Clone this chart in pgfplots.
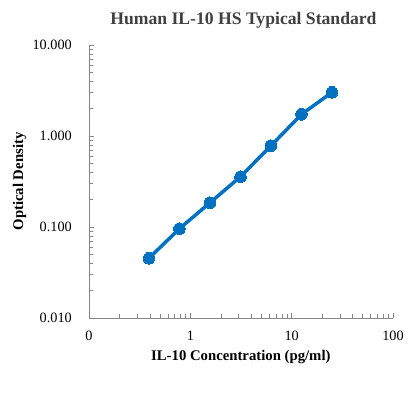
\documentclass[border=0pt]{standalone}
\usepackage{pgfplots}
\pgfplotsset{compat=1.18}
\usepackage{fontspec}
\setmainfont{Liberation Serif}
\definecolor{exblue}{RGB}{0,112,192}
\definecolor{axgray}{RGB}{134,134,134}
\definecolor{titlegray}{RGB}{64,64,64}
\begin{document}
\begin{tikzpicture}
\path[use as bounding box] (0,0) rectangle (420bp,396bp);
\begin{axis}[
  at={(89bp,78bp)}, anchor=south west,
  scale only axis, width=304bp, height=273bp,
  xmode=log, ymode=log,
  xmin=0.1, xmax=100, ymin=0.01, ymax=10,
  axis lines*=left,
  axis line style={axgray, line width=0.8pt},
  tick style={axgray, line width=0.6pt},
  tick align=inside,
  major tick length=5bp, minor tick length=4.5bp,
  xtick={0.1,1,10,100}, xticklabels={0,1,10,100},
  ytick={0.01,0.1,1,10}, yticklabels={0.010,0.100,1.000,10.000},
  tick label style={font=\fontsize{14.3}{16}\selectfont, text=black, inner sep=0pt},
  xticklabel style={anchor=center, yshift=-18bp},
  yticklabel style={anchor=east, xshift=-17bp},
  xlabel={\textbf{IL-10 Concentration (pg/ml)}},
  ylabel={\textbf{Optical Density}},
  label style={font=\fontsize{14.8}{17}\selectfont},
  xlabel style={at={(axis description cs:0.4995,-0.1429)}, anchor=center},
  ylabel style={at={(axis description cs:-0.2286,0.5)}, anchor=center},
  title={\textbf{Human IL-10 HS Typical Standard}},
  title style={font=\fontsize{17.7}{20}\selectfont, text=titlegray, at={(axis description cs:0.508,1)}, anchor=base, yshift=15bp},
  /pgf/number format/assume math mode=true,
  clip=false,
]
\addplot[exblue, line width=3.5bp, mark=*, mark size=5.8bp, mark options={fill=exblue, draw=exblue, line width=0pt}]
coordinates {
(0.39,0.0453)
(0.78,0.0958)
(1.5625,0.185)
(3.125,0.357)
(6.25,0.782)
(12.5,1.73)
(25,3.02)
};
\end{axis}
\end{tikzpicture}
\end{document}
